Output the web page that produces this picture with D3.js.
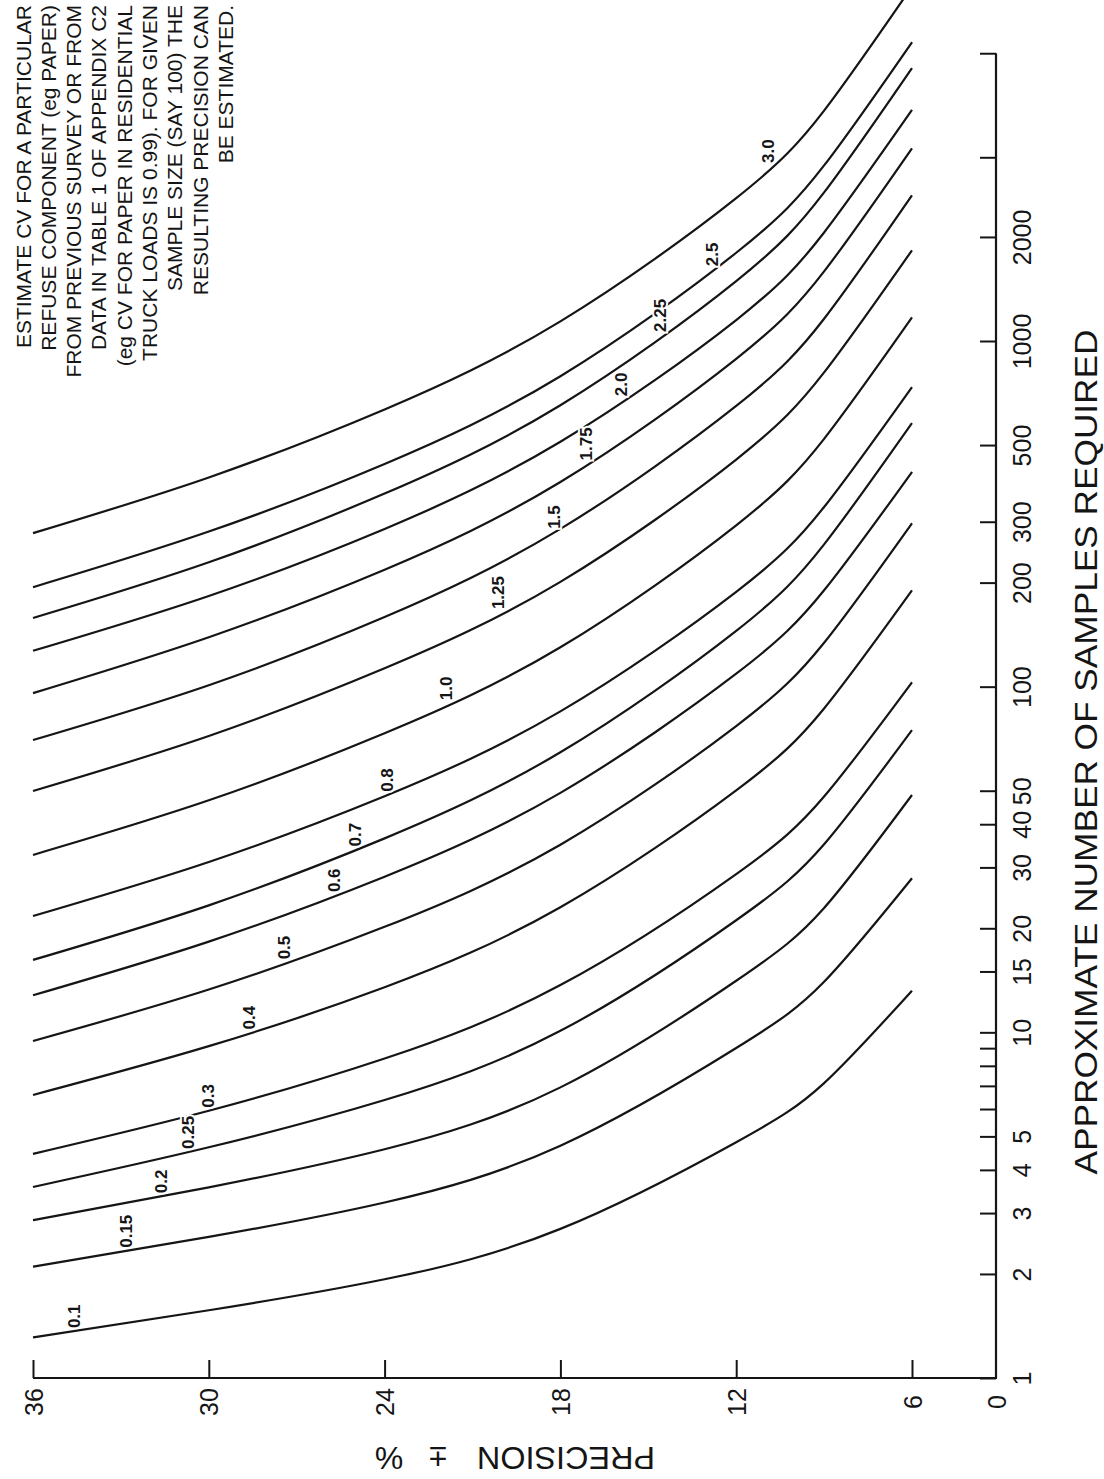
<!DOCTYPE html>
<html>
<head>
<meta charset="utf-8">
<script src="https://cdn.jsdelivr.net/npm/d3@7"></script>
<style>
    body { margin: 0; background: #fff; }
    svg { display: block; }
    text { font-family: "Liberation Sans", Arial, sans-serif; fill: #151515; }
</style>
</head>
<body>
<svg id="chart" width="1104" height="1479"></svg>
<script>
// Sample size chart (drawn rotated: precision runs right-to-left along the bottom,
// number of samples runs bottom-to-top on a log axis on the right)

// precision (%) at which each curve was read
const precisionGrid = [36, 30, 24, 18, 12, 9, 6];

// coefficient of variation for each curve
const cvLabels = ['0.1', '0.15', '0.2', '0.25', '0.3', '0.4', '0.5', '0.6', '0.7', '0.8',
    '1.0', '1.25', '1.5', '1.75', '2.0', '2.25', '2.5', '3.0'];

// approximate number of samples required, one row per curve, at precisionGrid
const samplesByCv = [
    [1.31, 1.57, 1.93, 2.70, 4.81, 7.13, 13.2],
    [2.10, 2.56, 3.22, 4.70, 9.01, 14.0, 27.9],
    [2.86, 3.56, 4.59, 6.93, 14.1, 22.9, 48.6],
    [3.57, 4.65, 6.37, 10.1, 21.1, 35.0, 74.9],
    [4.45, 5.93, 8.40, 13.7, 28.7, 48.1, 103],
    [6.59, 9.12, 13.5, 23.0, 50.1, 86.5, 190],
    [9.44, 13.3, 20.2, 34.9, 76.9, 134, 297],
    [12.8, 18.3, 28.2, 49.3, 109, 190, 418],
    [16.2, 23.3, 36.4, 64.6, 145, 258, 579],
    [21.7, 31.1, 48.2, 84.8, 188, 331, 736],
    [32.6, 46.9, 73.3, 130, 293, 521, 1170],
    [49.9, 72.0, 113, 201, 454, 811, 1830],
    [70.1, 101, 159, 286, 649, 1160, 2640],
    [95.8, 139, 218, 391, 888, 1590, 3610],
    [127, 183, 286, 511, 1150, 2060, 4660],
    [158, 229, 362, 652, 1490, 2690, 6160],
    [194, 281, 441, 791, 1800, 3220, 7320],
    [278, 403, 634, 1140, 2590, 4640, 10600]
];

// precision at which each curve carries its CV label
const labelPrecision = [34.6, 32.8, 31.6, 30.7, 30.0, 28.6, 27.4, 25.7, 25.0, 23.9,
    21.9, 20.1, 18.2, 17.1, 15.9, 14.6, 12.8, 10.9];

const precisionTicks = [36, 30, 24, 18, 12, 6, 0];
const sampleTicks = [1, 2, 3, 4, 5, 10, 15, 20, 30, 40, 50, 100, 200, 300, 500, 1000, 2000];
const sampleMinorTicks = [6, 7, 8, 9, 3400, 6800];

const noteLines = [
    'ESTIMATE CV FOR A PARTICULAR',
    'REFUSE COMPONENT (eg PAPER)',
    'FROM PREVIOUS SURVEY OR FROM',
    'DATA IN TABLE 1 OF APPENDIX C2',
    '(eg CV FOR PAPER IN RESIDENTIAL',
    'TRUCK LOADS IS 0.99). FOR GIVEN',
    'SAMPLE SIZE (SAY 100) THE',
    'RESULTING PRECISION CAN',
    'BE ESTIMATED.'
];

const svg = d3.select('#chart');

// scales: the axis jumps from 6 straight to 0 at the corner
const xP = d3.scaleLinear().domain([36, 6, 0]).range([33, 912, 997]);
const yN = d3.scaleLog().domain([1, 1000]).range([1378, 341]);

const ink = '#151515';

// curves
const line = d3.line()
    .x(d => xP(d.p))
    .y(d => yN(d.n))
    .curve(d3.curveNatural);

const curves = samplesByCv.map((row, i) => ({
    cv: cvLabels[i],
    points: row.map((n, j) => ({ p: precisionGrid[j], n: n }))
}));

svg.append('g')
    .selectAll('path')
    .data(curves)
    .enter()
    .append('path')
    .attr('d', d => line(d.points))
    .attr('fill', 'none')
    .attr('stroke', ink)
    .attr('stroke-width', 2.2);

// point on a curve at a given precision (log-linear between read points)
function curvePoint(points, p) {
    for (let j = 0; j < points.length - 1; j++) {
        const a = points[j], b = points[j + 1];
        if (p <= a.p && p >= b.p) {
            const t = (a.p - p) / (a.p - b.p);
            const ln = Math.log10(a.n) + t * (Math.log10(b.n) - Math.log10(a.n));
            return { x: xP(p), y: yN(Math.pow(10, ln)) };
        }
    }
    return { x: xP(p), y: yN(points[0].n) };
}

// CV labels sitting on the curves
svg.append('g')
    .selectAll('text')
    .data(curves)
    .enter()
    .append('text')
    .attr('transform', (d, i) => {
        const pt = curvePoint(d.points, labelPrecision[i]);
        return `translate(${pt.x},${pt.y - 3}) rotate(-90)`;
    })
    .attr('text-anchor', 'start')
    .attr('dominant-baseline', 'central')
    .attr('font-size', 17)
    .attr('font-weight', 'bold')
    .attr('stroke', '#fff')
    .attr('stroke-width', 4)
    .attr('paint-order', 'stroke')
    .text(d => d.cv);

// bottom axis (precision)
const bottomAxis = d3.axisBottom(xP)
    .tickValues(precisionTicks.filter(d => d !== 0))
    .tickSize(-18)
    .tickSizeOuter(0)
    .tickFormat(d3.format('d'));

const gx = svg.append('g')
    .attr('transform', 'translate(0,1378)')
    .call(bottomAxis);
gx.select('.domain').remove();
gx.append('line')
    .attr('x1', xP(36)).attr('x2', xP(0))
    .attr('stroke', ink).attr('stroke-width', 2.2);
gx.append('g').attr('class', 'tick').attr('transform', `translate(${xP(0)},0)`)
    .append('text').text(precisionTicks[precisionTicks.length - 1]);
gx.selectAll('.tick line').attr('stroke', ink).attr('stroke-width', 2);
gx.selectAll('.tick text')
    .attr('x', 0).attr('y', 0).attr('dy', null)
    .attr('transform', 'translate(0,24) rotate(-90)')
    .attr('text-anchor', 'middle')
    .attr('dominant-baseline', 'central')
    .attr('font-size', 25)
    .attr('font-family', '"Liberation Sans", Arial, sans-serif')
    .attr('fill', ink);

// right axis (number of samples, log)
const rightAxis = d3.axisRight(yN)
    .tickValues(sampleTicks.concat(sampleMinorTicks))
    .tickSize(-16)
    .tickSizeOuter(0)
    .tickFormat(d => sampleTicks.includes(d) ? d : '');

const gy = svg.append('g')
    .attr('transform', 'translate(996,0)')
    .call(rightAxis);
gy.select('.domain').remove();
gy.append('line')
    .attr('y1', yN(1)).attr('y2', yN(d3.max(sampleMinorTicks)))
    .attr('stroke', ink).attr('stroke-width', 2.2);
gy.selectAll('.tick line').attr('stroke', ink).attr('stroke-width', 2);
gy.selectAll('.tick text')
    .attr('x', 0).attr('y', 0).attr('dy', null)
    .attr('transform', 'translate(26,0) rotate(-90)')
    .attr('text-anchor', 'middle')
    .attr('dominant-baseline', 'central')
    .attr('font-size', 25)
    .attr('font-family', '"Liberation Sans", Arial, sans-serif')
    .attr('fill', ink);

// axis titles
svg.append('text')
    .attr('transform', 'translate(1086,752) rotate(-90)')
    .attr('text-anchor', 'middle')
    .attr('dominant-baseline', 'central')
    .attr('font-size', 32)
    .attr('textLength', 845)
    .attr('lengthAdjust', 'spacingAndGlyphs')
    .text('APPROXIMATE NUMBER OF SAMPLES REQUIRED');

// upside-down precision title, word by word
const precisionTitle = [
    { t: 'PRECISION', x: 566, len: 178 },
    { t: '±', x: 438, len: null },
    { t: '%', x: 389, len: null }
];
svg.append('g')
    .selectAll('text')
    .data(precisionTitle)
    .enter()
    .append('text')
    .attr('transform', d => `translate(${d.x},1458) rotate(180)`)
    .attr('text-anchor', 'middle')
    .attr('dominant-baseline', 'central')
    .attr('font-size', 32)
    .attr('textLength', d => d.len)
    .attr('lengthAdjust', 'spacingAndGlyphs')
    .text(d => d.t);

// note in the top left corner
svg.append('g')
    .selectAll('text')
    .data(noteLines)
    .enter()
    .append('text')
    .attr('transform', (d, i) => `translate(${23 + i * 25.3},5) rotate(-90)`)
    .attr('text-anchor', 'end')
    .attr('dominant-baseline', 'central')
    .attr('font-size', 21)
    .text(d => d);
</script>
</body>
</html>
